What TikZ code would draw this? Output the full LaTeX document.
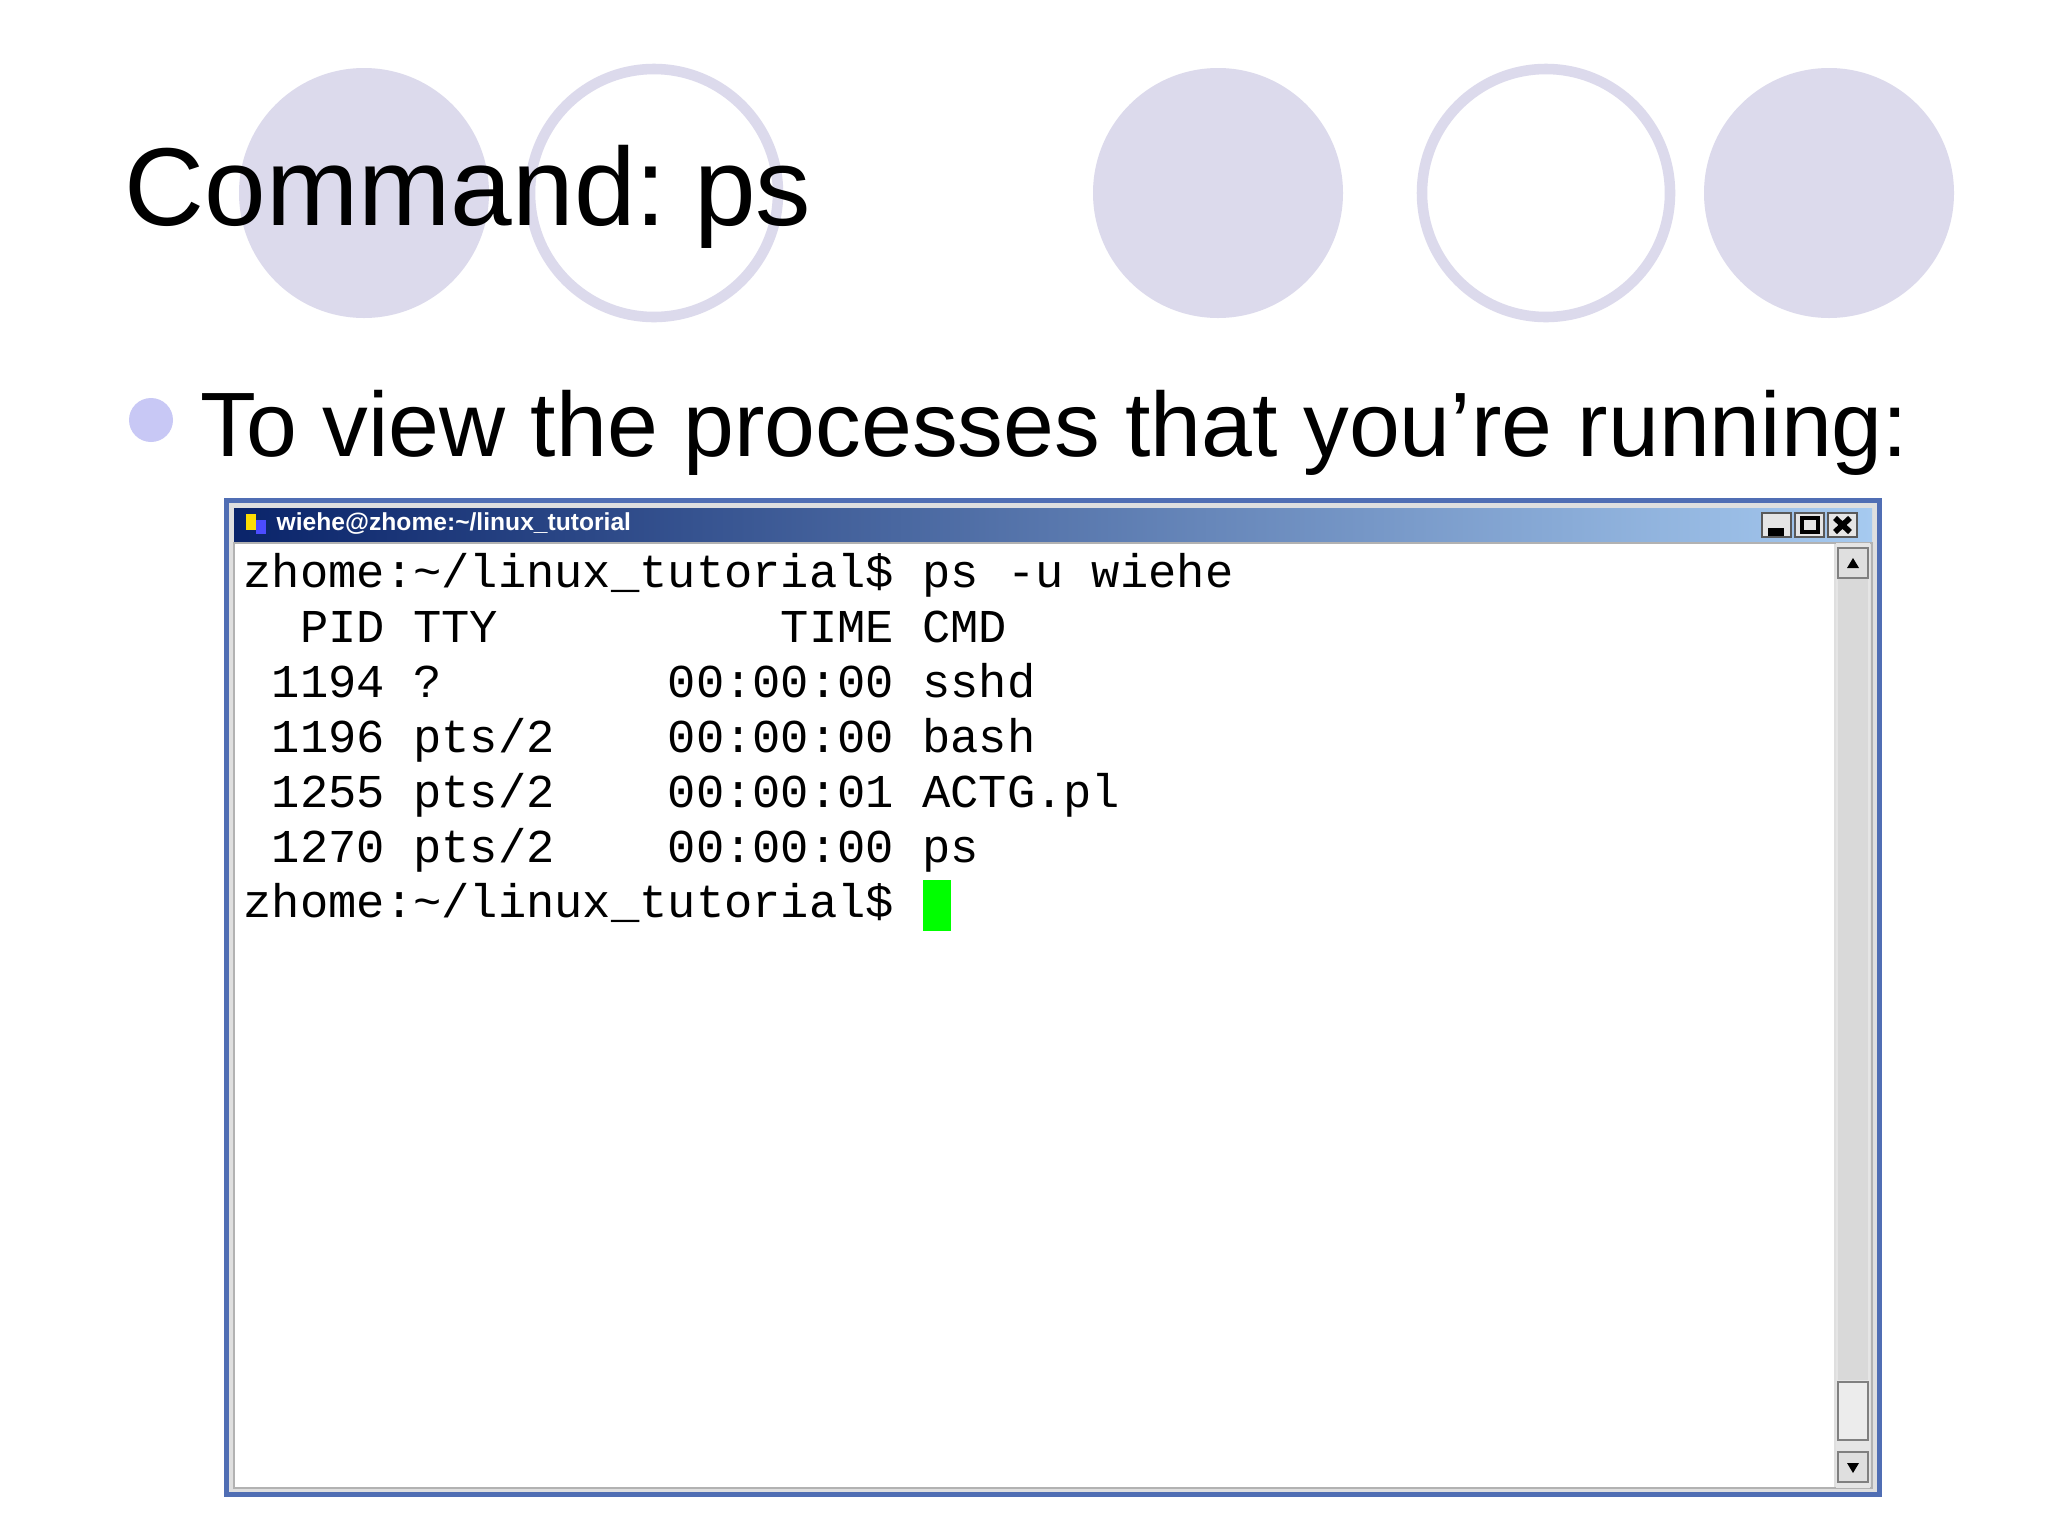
\documentclass[tikz,border=0pt]{standalone}
\usepackage{fontspec}
\setmainfont{Liberation Sans}
\newfontfamily\monof{Liberation Mono}
\definecolor{circ}{RGB}{220,218,236}
\definecolor{bul}{RGB}{200,200,245}
\definecolor{tbA}{RGB}{10,36,106}
\definecolor{tbB}{RGB}{166,202,240}
\definecolor{winfr}{RGB}{80,110,180}
\begin{document}
\begin{tikzpicture}[x=0.01cm,y=-0.01cm,
  term/.style={anchor=base west,inner sep=0,font=\monof\fontsize{13.4}{14}\selectfont}]
\useasboundingbox (0,0) rectangle (2048,1536);
\fill[white] (0,0) rectangle (2048,1536);
\fill[circ] (364,193) circle (125);
\draw[circ,line width=3pt] (654,193) circle (124);
\fill[circ] (1218,193) circle (125);
\draw[circ,line width=3pt] (1546,193) circle (124);
\fill[circ] (1829,193) circle (125);
\node[anchor=west,inner sep=0,font=\fontsize{31.5}{34}\selectfont] (title) at (124,197) {Command:\hspace{-0.12em} ps};
\fill[bul] (151,420) circle (22);
\node[anchor=west,inner sep=0,font=\fontsize{26}{30}\selectfont] (bt) at (200,433) {To view the processes that you’re running:};
% window
\fill[winfr] (224,498) rectangle (1882,1497);
\fill[gray!25] (229,503) rectangle (1877,1492);
\shade[left color=tbA,right color=tbB] (234,508) rectangle (1872,541);
\fill[white] (234,543) rectangle (1834,1488);
\draw[gray!60] (234,543) rectangle (1872,1488);
\fill[gray!20] (1836,543) rectangle (1870,1488);
\fill[gray!30] (1838,572) rectangle (1868,1380);
% scroll buttons
\foreach \y in {548,1452}{\fill[gray!25] (1838,\y) rectangle (1868,\y+30); \draw[gray] (1838,\y) rectangle (1868,\y+30);}
\fill[black] (1847,568) -- (1859,568) -- (1853,558) -- cycle;
\fill[black] (1847,1463) -- (1859,1463) -- (1853,1473) -- cycle;
\fill[gray!15] (1838,1382) rectangle (1868,1440); \draw[gray] (1838,1382) rectangle (1868,1440);
% title buttons
\foreach \x in {1762,1795,1828}{\fill[gray!20] (\x,513) rectangle (\x+29,537); \draw[gray!70!black] (\x,513) rectangle (\x+29,537);}
\draw[line width=2pt] (1768,532) -- (1784,532);
\draw[line width=1.2pt] (1802,518) rectangle (1818,532);
\draw[line width=1.6pt] (1835,518) -- (1850,532) (1835,532) -- (1850,518);
\node[anchor=west,inner sep=0,text=white,font=\bfseries\fontsize{7}{8}\selectfont] (wt) at (276,524) {wiehe@zhome:\textasciitilde/linux\_tutorial};
\fill[yellow!80!orange] (246,514) rectangle (256,530);
\fill[blue!70] (256,520) rectangle (266,534);
% terminal text
\node[term] (l1) at (243,587) {zhome:\textasciitilde/linux\_tutorial\$ ps -u wiehe};
\node[term] (l2) at (243,642) {\ \ PID TTY\ \ \ \ \ \ \ \ \ \ TIME CMD};
\node[term] (l3) at (243,697) {\ 1194 ?\ \ \ \ \ \ \ \ 00:00:00 sshd};
\node[term] (l4) at (243,752) {\ 1196 pts/2\ \ \ \ 00:00:00 bash};
\node[term] (l5) at (243,807) {\ 1255 pts/2\ \ \ \ 00:00:01 ACTG.pl};
\node[term] (l6) at (243,862) {\ 1270 pts/2\ \ \ \ 00:00:00 ps};
\node[term] (l7) at (243,917) {zhome:\textasciitilde/linux\_tutorial\$};
\fill[green] (923,880) rectangle (951,931);
\end{tikzpicture}
\end{document}
